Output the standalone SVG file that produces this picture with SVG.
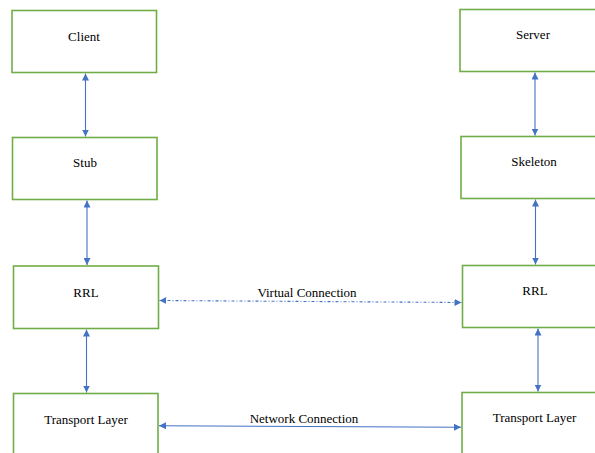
<svg xmlns="http://www.w3.org/2000/svg" width="595" height="453" viewBox="0 0 595 453">
  <style>
    .box { fill: #ffffff; stroke: #70AD47; stroke-width: 1.6; }
    .lbl { font-family: "Liberation Serif", "Times New Roman", serif; font-size: 13px; fill: #000000; text-anchor: middle; }
    .link { stroke: #4472C4; stroke-width: 1.1; fill: none; marker-start: url(#head); marker-end: url(#head); }
    .dashed { stroke-dasharray: 3 2 1 2; }
  </style>
  <defs>
    <marker id="head" viewBox="0 0 10 10" refX="10" refY="5" markerWidth="7" markerHeight="7" markerUnits="userSpaceOnUse" orient="auto-start-reverse">
      <path d="M0,0 L10,5 L0,10 Z" fill="#4472C4"/>
    </marker>
  </defs>
  <rect width="595" height="453" fill="#ffffff"/>

  <!-- client side stack -->
  <g id="client">
    <rect class="box" x="12" y="10.5" width="144.5" height="62"/>
    <text class="lbl" x="84" y="40.5">Client</text>
  </g>
  <g id="stub">
    <rect class="box" x="12.5" y="137.5" width="144.5" height="62"/>
    <text class="lbl" x="85" y="166.5">Stub</text>
  </g>
  <g id="rrl-client">
    <rect class="box" x="13.5" y="266" width="145" height="62.5"/>
    <text class="lbl" x="86" y="296.5">RRL</text>
  </g>
  <g id="transport-client">
    <rect class="box" x="13.5" y="393.5" width="144.5" height="65"/>
    <text class="lbl" x="86" y="423.5">Transport Layer</text>
  </g>

  <!-- server side stack -->
  <g id="server">
    <rect class="box" x="460" y="9.5" width="145" height="62"/>
    <text class="lbl" x="533" y="38.5">Server</text>
  </g>
  <g id="skeleton">
    <rect class="box" x="461" y="136.5" width="145" height="62"/>
    <text class="lbl" x="534" y="165.5">Skeleton</text>
  </g>
  <g id="rrl-server">
    <rect class="box" x="462.5" y="265.5" width="145" height="62"/>
    <text class="lbl" x="535" y="295">RRL</text>
  </g>
  <g id="transport-server">
    <rect class="box" x="462" y="392.5" width="145" height="65"/>
    <text class="lbl" x="534.5" y="421.5">Transport Layer</text>
  </g>

  <!-- connectors -->
  <g id="connectors">
    <line class="link" x1="85.5" y1="73.5" x2="85.5" y2="136.5"/>
    <line class="link" x1="87" y1="200.5" x2="87" y2="265"/>
    <line class="link" x1="86.5" y1="329.5" x2="86.5" y2="392.5"/>
    <line class="link" x1="535" y1="72.5" x2="535" y2="135.5"/>
    <line class="link" x1="535.5" y1="199.5" x2="535.5" y2="264.5"/>
    <line class="link" x1="538" y1="328.5" x2="538" y2="391.5"/>
    <line class="link dashed" x1="159.5" y1="300.5" x2="461.5" y2="302.5"/>
    <line class="link" x1="159" y1="425.7" x2="461" y2="427.3"/>
    <text class="lbl" x="307" y="297.3">Virtual Connection</text>
    <text class="lbl" x="304" y="423.3">Network Connection</text>
  </g>
</svg>
